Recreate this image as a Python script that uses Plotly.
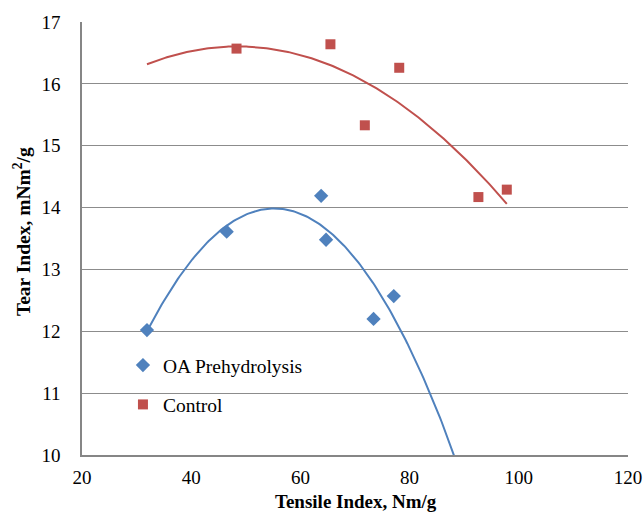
import numpy as np
import plotly.graph_objects as go

# Data
oa_x = [31.9, 46.5, 63.8, 64.7, 73.4, 77.1]
oa_y = [12.02, 13.61, 14.19, 13.48, 12.20, 12.57]
ctrl_x = [48.3, 65.5, 71.8, 78.1, 92.6, 97.8]
ctrl_y = [16.57, 16.64, 15.33, 16.26, 14.17, 14.29]
x_title = "Tensile Index, Nm/g"
y_title = "Tear Index, mNm<sup>2</sup>/g"

blue = "#4F81BD"
red = "#C0504D"

# Polynomial (order 2) trendlines, fitted to the data like Excel does
oa_fit = np.poly1d(np.polyfit(oa_x, oa_y, 2))
ctrl_fit = np.poly1d(np.polyfit(ctrl_x, ctrl_y, 2))
oa_tx = np.linspace(min(oa_x), max(ctrl_x), 200)
ctrl_tx = np.linspace(min(oa_x), max(ctrl_x), 200)

fig = go.Figure()
fig.add_trace(go.Scatter(x=oa_tx, y=oa_fit(oa_tx), mode="lines",
                         line=dict(color=blue, width=2), showlegend=False, hoverinfo="skip"))
fig.add_trace(go.Scatter(x=ctrl_tx, y=ctrl_fit(ctrl_tx), mode="lines",
                         line=dict(color=red, width=2), showlegend=False, hoverinfo="skip"))
fig.add_trace(go.Scatter(x=oa_x, y=oa_y, mode="markers", name="OA Prehydrolysis",
                         legendgroup="a",
                         marker=dict(symbol="diamond", size=11, color=blue)))
fig.add_trace(go.Scatter(x=ctrl_x, y=ctrl_y, mode="markers", name="Control",
                         legendgroup="b",
                         marker=dict(symbol="square", size=10, color=red)))

font = "Liberation Serif, Times New Roman, serif"
fig.update_layout(
    width=644, height=512,
    margin=dict(l=82, r=16, t=22, b=57),
    paper_bgcolor="white", plot_bgcolor="white",
    font=dict(family=font, size=19, color="black"),
    showlegend=True,
    legend=dict(x=0.075, y=0.252, xanchor="left", yanchor="top",
                bgcolor="rgba(0,0,0,0)", tracegroupgap=11,
                font=dict(family=font, size=19.5, color="black"),
                itemwidth=30),
    xaxis=dict(range=[20, 120], dtick=20, tick0=20, showgrid=False,
               showline=True, linecolor="#868686", linewidth=1.5,
               ticks="", zeroline=False, automargin=False,
               ticklabelstandoff=4,
               tickfont=dict(family=font, size=19)),
    yaxis=dict(range=[10, 17], dtick=1, showgrid=True, gridcolor="#8c8c8c",
               gridwidth=1, showline=True, linecolor="#868686", linewidth=1.5,
               ticks="", zeroline=False, automargin=False,
               ticklabelstandoff=16,
               tickfont=dict(family=font, size=19)),
    annotations=[
        dict(text="<b>" + x_title + "</b>", xref="paper", yref="paper",
             x=0.502, y=-0.1085, xanchor="center", yanchor="middle",
             showarrow=False, font=dict(family=font, size=19)),
        dict(text="<b>" + y_title + "</b>", xref="paper", yref="paper",
             x=-0.11, y=0.517, xanchor="center", yanchor="middle", textangle=-90,
             showarrow=False, font=dict(family=font, size=19.5)),
    ],
)

# remove the default page margin so the figure fills the 644x512 window exactly
fig.write_html("out.html",
               config={"displayModeBar": False},
               post_script="document.body.style.margin='0';document.body.style.overflow='hidden';")
